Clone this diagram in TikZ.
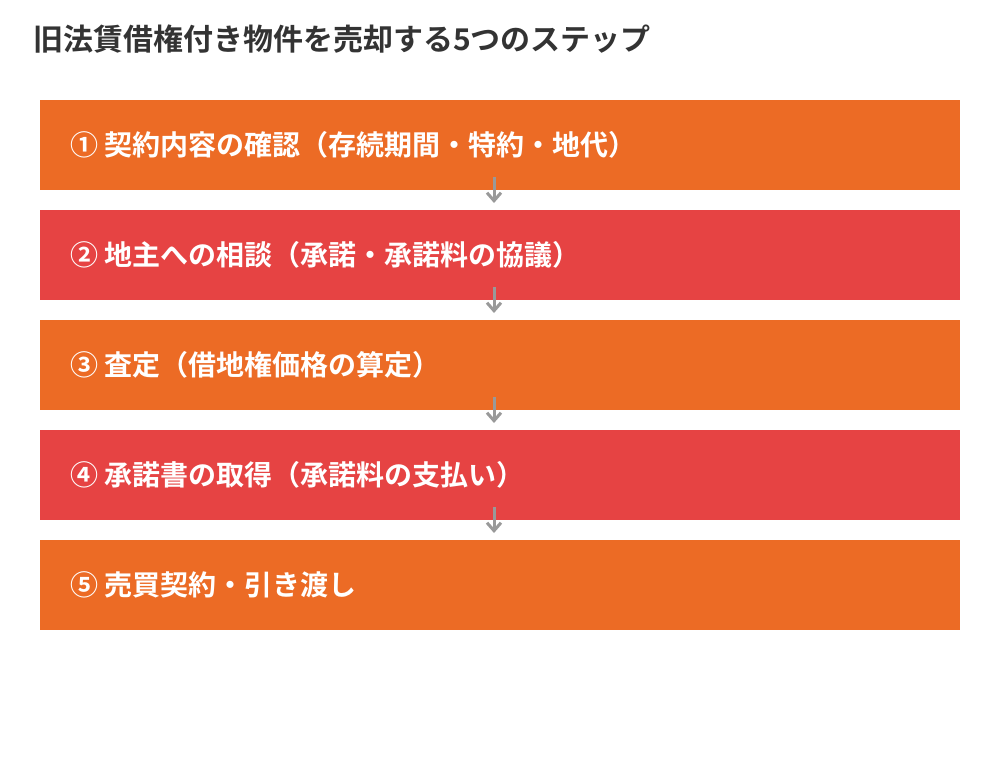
\documentclass[tikz,border=0pt]{standalone}
\usepackage{fontspec}
\setmainfont{Noto Sans CJK JP}[BoldFont={Noto Sans CJK JP Bold}]
\usetikzlibrary{arrows.meta,positioning}
\definecolor{steporange}{HTML}{EC6B25}
\definecolor{stepred}{HTML}{E64343}
\definecolor{titlegray}{HTML}{333333}
\definecolor{arrowgray}{HTML}{999999}
\tikzset{
    stepbox/.style={minimum width=920pt, minimum height=90pt, inner sep=0pt, outer sep=0pt},
    steplabel/.style={text=white, font=\bfseries\fontsize{28}{32}\selectfont, anchor=west, inner sep=0pt},
    flow/.style={draw=arrowgray, line width=3pt, -{Straight Barb[length=8pt,width=14pt]}}}

\begin{document}
\begin{tikzpicture}[x=1pt, y=-1pt]

    \fill[white] (0,0) rectangle (1000,760);
    \useasboundingbox (0,0) rectangle (1000,760);

    \node[anchor=west, inner sep=0pt, text=titlegray, font=\bfseries\fontsize{30}{34}\selectfont] (title) at (33,39) {旧法賃借権付き物件を売却する5つのステップ};

    \node[stepbox, fill=steporange] (s1) at (500,145) {};
    \node[stepbox, fill=stepred] (s2) at (500,255) {};
    \node[stepbox, fill=steporange] (s3) at (500,365) {};
    \node[stepbox, fill=stepred] (s4) at (500,475) {};
    \node[stepbox, fill=steporange] (s5) at (500,585) {};

    \node[steplabel] (t1) at ([xshift=30pt]s1.west) {① 契約内容の確認（存続期間・特約・地代）};
    \node[steplabel] (t2) at ([xshift=30pt]s2.west) {② 地主への相談（承諾・承諾料の協議）};
    \node[steplabel] (t3) at ([xshift=30pt]s3.west) {③ 査定（借地権価格の算定）};
    \node[steplabel] (t4) at ([xshift=30pt]s4.west) {④ 承諾書の取得（承諾料の支払い）};
    \node[steplabel] (t5) at ([xshift=30pt]s5.west) {⑤ 売買契約・引き渡し};

    \draw[flow] ([xshift=-6pt, yshift=13pt]s1.south) -- ([xshift=-6pt, yshift=7pt]s2.north);
    \draw[flow] ([xshift=-6pt, yshift=13pt]s2.south) -- ([xshift=-6pt, yshift=7pt]s3.north);
    \draw[flow] ([xshift=-6pt, yshift=13pt]s3.south) -- ([xshift=-6pt, yshift=7pt]s4.north);
    \draw[flow] ([xshift=-6pt, yshift=13pt]s4.south) -- ([xshift=-6pt, yshift=7pt]s5.north);

\end{tikzpicture}
\end{document}
